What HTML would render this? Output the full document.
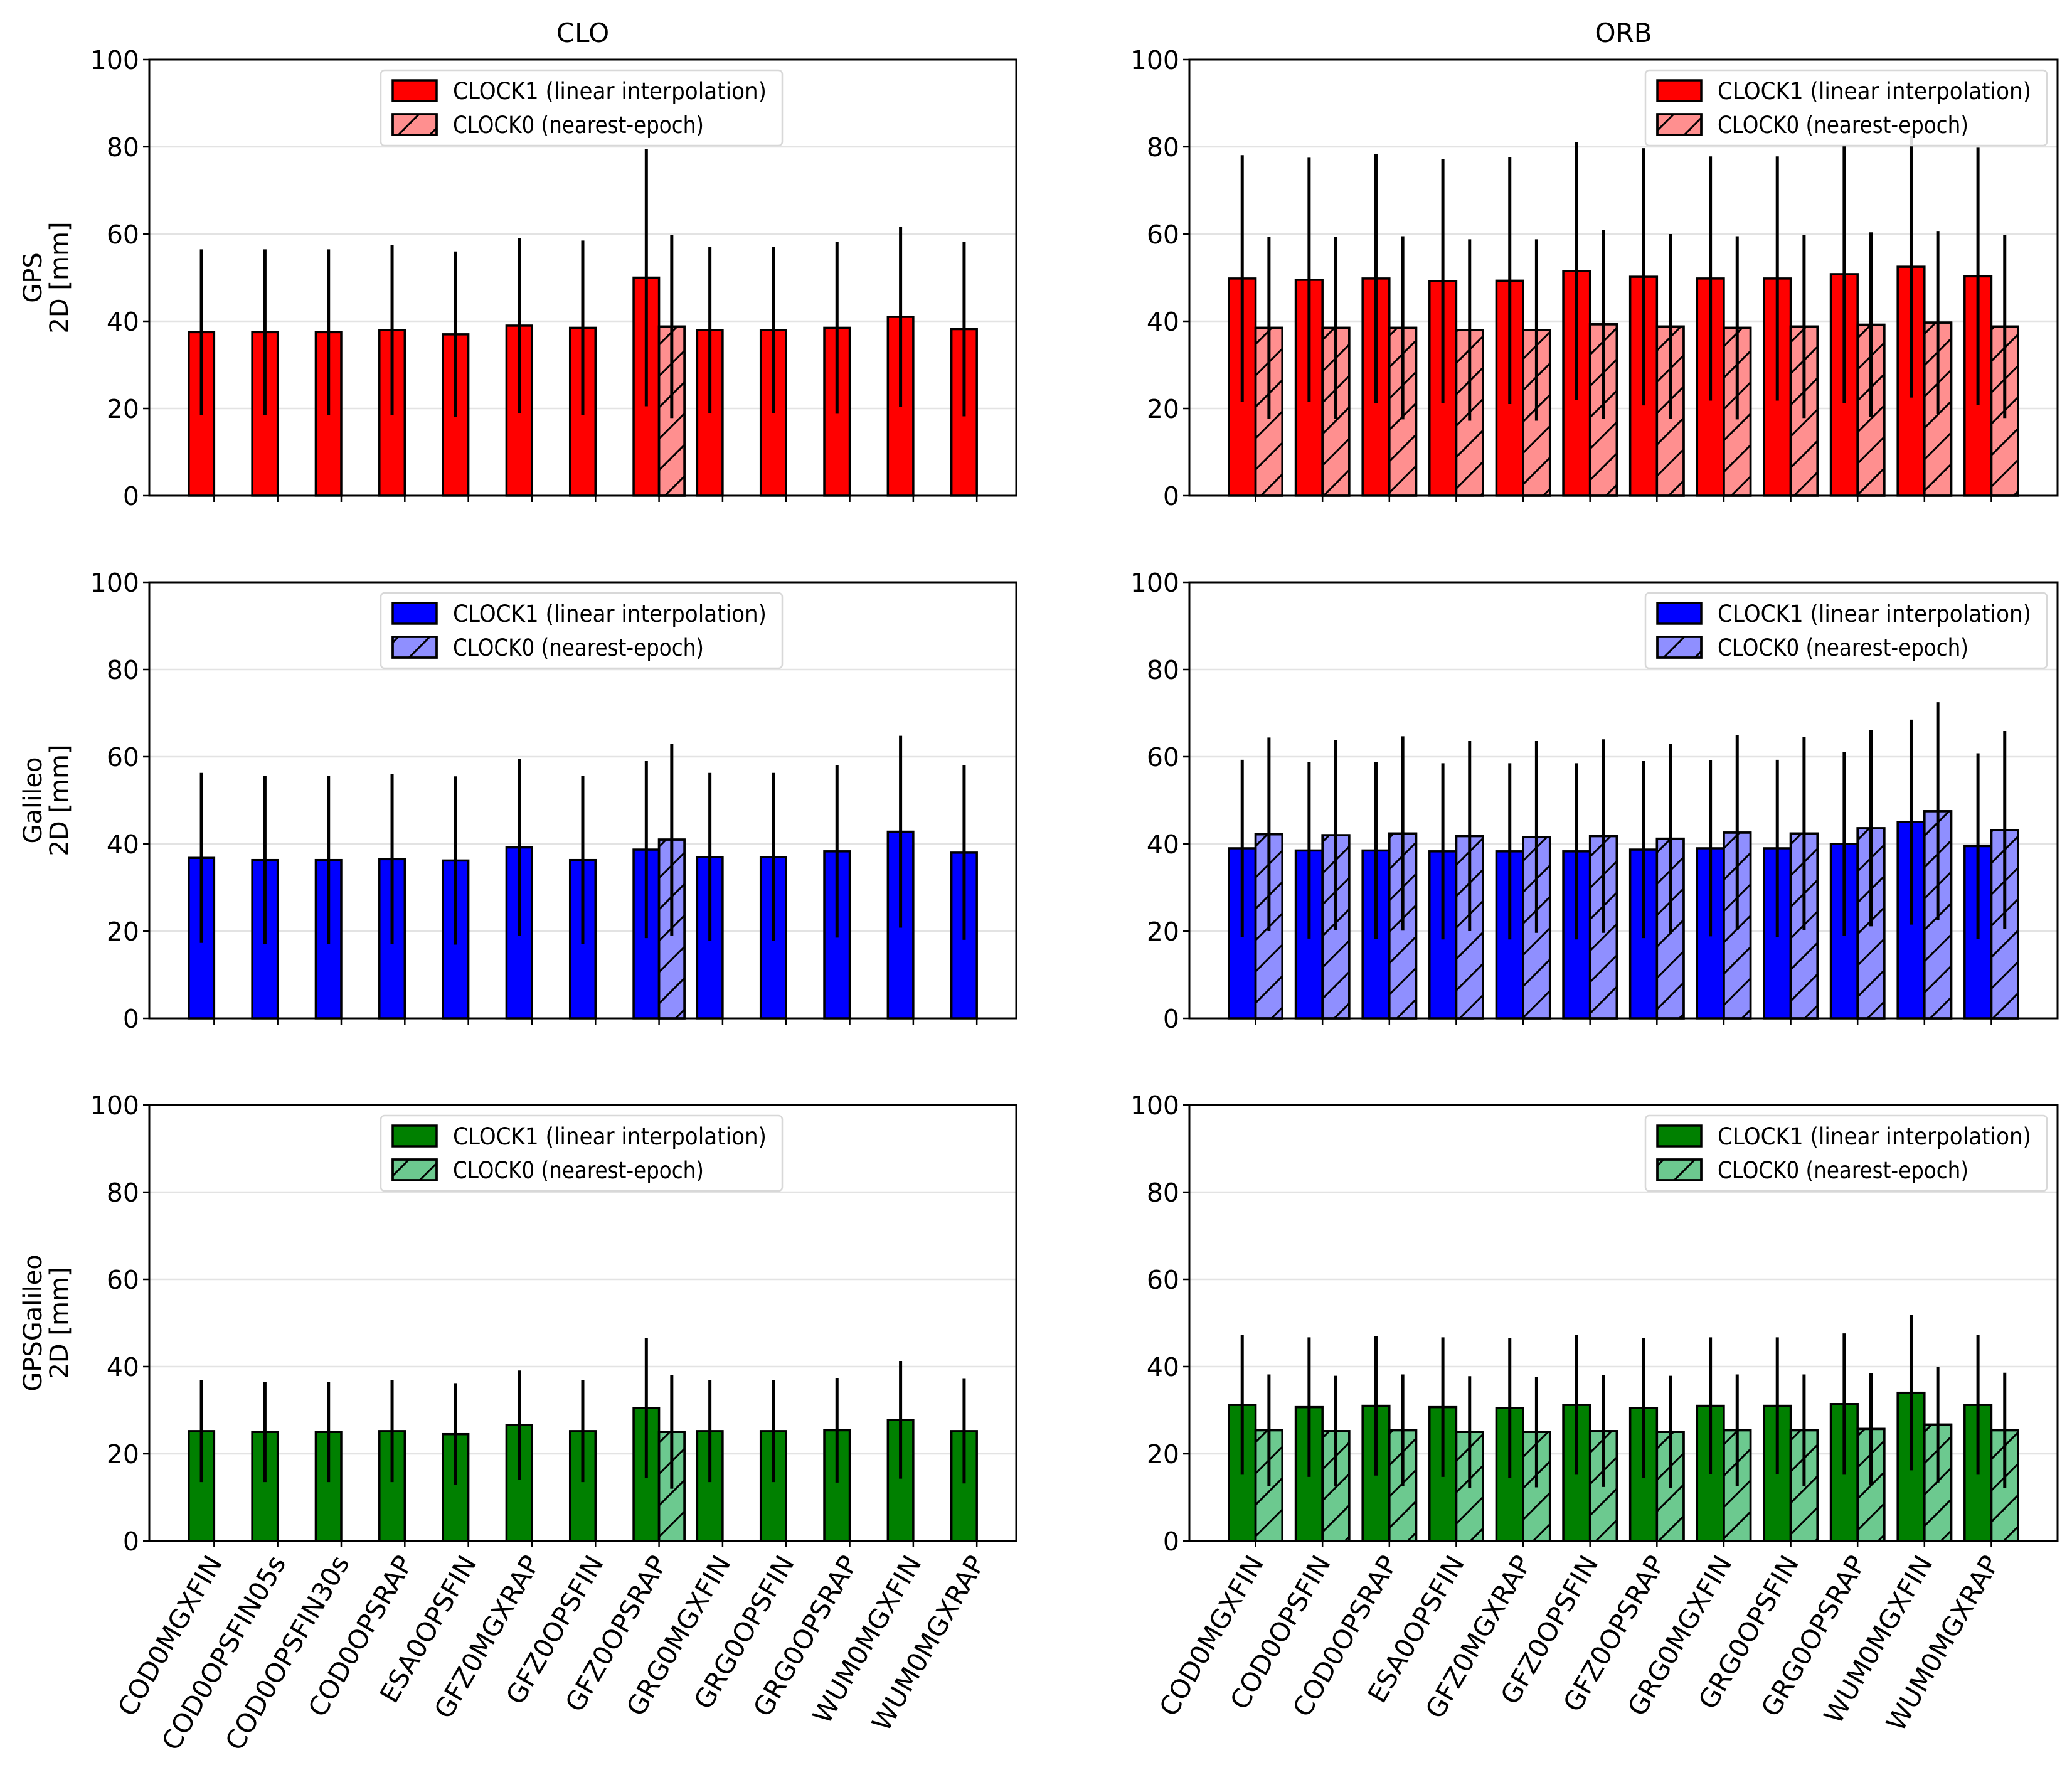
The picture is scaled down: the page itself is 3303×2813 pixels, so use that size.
<!DOCTYPE html>
<html><head><meta charset="utf-8"><style>
html,body{margin:0;padding:0;background:#fff;}
svg text{font-family:"DejaVu Sans","Liberation Sans",sans-serif;fill:#000;}
</style></head><body>
<svg id="chart" width="3303" height="2808" viewBox="0 0 3303 2808" xmlns="http://www.w3.org/2000/svg">
<defs>
<pattern id="hatch" patternUnits="userSpaceOnUse" width="50" height="50">
<path d="M-10,60 L60,-10 M-10,10 L10,-10 M40,60 L60,40" stroke="#000" stroke-width="3"/>
</pattern>
</defs>
</svg>
<script>
const cloCats = ["COD0MGXFIN","COD0OPSFIN05s","COD0OPSFIN30s","COD0OPSRAP","ESA0OPSFIN","GFZ0MGXRAP","GFZ0OPSFIN","GFZ0OPSRAP","GRG0MGXFIN","GRG0OPSFIN","GRG0OPSRAP","WUM0MGXFIN","WUM0MGXRAP"];
const orbCats = ["COD0MGXFIN","COD0OPSFIN","COD0OPSRAP","ESA0OPSFIN","GFZ0MGXRAP","GFZ0OPSFIN","GFZ0OPSRAP","GRG0MGXFIN","GRG0OPSFIN","GRG0OPSRAP","WUM0MGXFIN","WUM0MGXRAP"];
const yTicks = [0,20,40,60,80,100];
const cloClock0Index = 7;

const gpsCloC1 = [37.5,37.5,37.5,38,37,39,38.5,50,38,38,38.5,41,38.2];
const gpsCloC1Err = [19,19,19,19.5,19,20,20,29.5,19,19,19.7,20.7,20];
const gpsCloC0 = [38.8];
const gpsCloC0Err = [21];
const gpsOrbC1 = [49.8,49.5,49.8,49.2,49.3,51.5,50.2,49.8,49.8,50.8,52.5,50.3];
const gpsOrbC1Err = [28.3,28,28.5,28,28.3,29.5,29.5,28,28,29.5,30,29.5];
const gpsOrbC0 = [38.5,38.5,38.5,38,38,39.3,38.8,38.5,38.8,39.2,39.7,38.8];
const gpsOrbC0Err = [20.8,20.8,21,20.8,20.8,21.7,21.2,21,21,21.2,21,21];

const galCloC1 = [36.8,36.3,36.3,36.5,36.2,39.2,36.3,38.7,37,37,38.3,42.8,38];
const galCloC1Err = [19.5,19.3,19.3,19.5,19.3,20.3,19.3,20.3,19.3,19.3,19.8,22,20];
const galCloC0 = [41];
const galCloC0Err = [22];
const galOrbC1 = [39,38.5,38.5,38.3,38.3,38.3,38.7,39,39,40,45,39.5];
const galOrbC1Err = [20.3,20.2,20.3,20.2,20.2,20.2,20.3,20.2,20.3,21,23.5,21.3];
const galOrbC0 = [42.2,42,42.4,41.8,41.6,41.8,41.2,42.6,42.4,43.6,47.5,43.2];
const galOrbC0Err = [22.2,21.8,22.3,21.8,22,22.2,21.8,22.3,22.2,22.5,25,22.7];

const ggCloC1 = [25.2,25,25,25.2,24.5,26.6,25.2,30.5,25.2,25.2,25.4,27.8,25.2];
const ggCloC1Err = [11.7,11.5,11.5,11.7,11.7,12.5,11.7,16,11.7,11.7,12,13.5,12];
const ggCloC0 = [25];
const ggCloC0Err = [13];
const ggOrbC1 = [31.2,30.7,31,30.7,30.5,31.2,30.5,31,31,31.4,34,31.2];
const ggOrbC1Err = [16,16,16,16,16,16,16,15.7,15.7,16.2,17.8,16];
const ggOrbC0 = [25.4,25.2,25.4,25,25,25.2,25,25.4,25.4,25.7,26.7,25.4];
const ggOrbC0Err = [12.8,12.7,12.8,12.8,12.7,12.8,12.9,12.8,12.8,12.8,13.3,13.2];

const NS='http://www.w3.org/2000/svg';
const svg=document.getElementById('chart');
function mk(tag,attrs,parent){const e=document.createElementNS(NS,tag);for(const k in attrs)e.setAttribute(k,attrs[k]);(parent||svg).appendChild(e);return e;}

const rows=[
 {label:'GPS',top:95,bot:790,c1:'#ff0000',c0:'#ff8f8f',clo:[gpsCloC1,gpsCloC1Err,gpsCloC0,gpsCloC0Err],orb:[gpsOrbC1,gpsOrbC1Err,gpsOrbC0,gpsOrbC0Err]},
 {label:'Galileo',top:928,bot:1623,c1:'#0000ff',c0:'#8f8fff',clo:[galCloC1,galCloC1Err,galCloC0,galCloC0Err],orb:[galOrbC1,galOrbC1Err,galOrbC0,galOrbC0Err]},
 {label:'GPSGalileo',top:1761,bot:2456,c1:'#008000',c0:'#6cc98f',clo:[ggCloC1,ggCloC1Err,ggCloC0,ggCloC0Err],orb:[ggOrbC1,ggOrbC1Err,ggOrbC0,ggOrbC0Err]}
];
const cols=[
 {name:'CLO',left:238,right:1620,xmin:-1.02,xmax:12.62,cats:cloCats,key:'clo',legX:607},
 {name:'ORB',left:1896,right:3280,xmin:-0.99,xmax:11.99,cats:orbCats,key:'orb',legX:2623}
];
const W=0.4;

cols.forEach((col,ci)=>{
 const t=mk('text',{x:(col.left+col.right)/2,y:67,'font-size':42,'text-anchor':'middle'});
 
 
 t.textContent=col.name;
 rows.forEach((row,ri)=>{
  const g=mk('g',{});
  
  
  const X=v=>col.left+(v-col.xmin)/(col.xmax-col.xmin)*(col.right-col.left);
  const Y=v=>row.bot-v/100*(row.bot-row.top);
  yTicks.forEach(tv=>{
   if(tv>0&&tv<100){const gl=mk('line',{x1:col.left,x2:col.right,y1:Y(tv),y2:Y(tv),stroke:'#e3e3e3','stroke-width':2.5},g);
    }
   const tk=mk('line',{x1:col.left-10,x2:col.left,y1:Y(tv),y2:Y(tv),stroke:'#000','stroke-width':2.5},g);
   
   const tl=mk('text',{x:col.left-16,y:Y(tv)+15,'font-size':41,'text-anchor':'end'},g);
   
   tl.textContent=tv;
  });
  const d=row[col.key];
  const c1=d[0],e1=d[1],c0=d[2],e0=d[3];
  const drawBar=(i,v,e,fill,hatch,nm)=>{
   const x0=hatch?X(i):X(i-W);
   const r=mk('rect',{x:x0,y:Y(v),width:X(i+W)-X(i),height:Y(0)-Y(v),fill:fill,stroke:'#000','stroke-width':3.5},g);
   
   if(hatch){const h=mk('rect',{x:x0,y:Y(v),width:X(i+W)-X(i),height:Y(0)-Y(v),fill:'url(#hatch)',stroke:'#000','stroke-width':3.5},g);
    }
   const xc=x0+(X(i+W)-X(i))/2;
   const el=mk('line',{x1:xc,x2:xc,y1:Y(v-e),y2:Y(v+e),stroke:'#000','stroke-width':5},g);
   
  };
  c1.forEach((v,i)=>drawBar(i,v,e1[i],row.c1,false,'bar-clock1-'+col.cats[i].toLowerCase()));
  if(col.key==='clo'){c0.forEach((v,k)=>drawBar(cloClock0Index+k,v,e0[k],row.c0,true,'bar-clock0-'+col.cats[cloClock0Index+k].toLowerCase()));}
  else {c0.forEach((v,i)=>drawBar(i,v,e0[i],row.c0,true,'bar-clock0-'+col.cats[i].toLowerCase()));}
  col.cats.forEach((c,i)=>{
   const xt=X(i);
   const tk=mk('line',{x1:xt,x2:xt,y1:row.bot,y2:row.bot+10,stroke:'#000','stroke-width':2.5},g);
   
   if(ri===2){
    const tl=mk('text',{x:0,y:0,'font-size':42,'text-anchor':'end',transform:`translate(${xt+14},${row.bot+34}) rotate(-60)`},g);
    
    tl.textContent=c;
   }
  });
  const fr=mk('rect',{x:col.left,y:row.top,width:col.right-col.left,height:row.bot-row.top,fill:'none',stroke:'#000','stroke-width':3},g);
  
  const lg=mk('g',{},g);
  
  const ly=row.top+17;
  mk('rect',{x:col.legX,y:ly,width:640,height:120,rx:6,fill:'#fff','fill-opacity':0.85,stroke:'#d8d8d8','stroke-width':2.5},lg);
  const p1=mk('rect',{x:col.legX+19,y:ly+16,width:70,height:33,fill:row.c1,stroke:'#000','stroke-width':3.5},lg);
  
  const p0=mk('rect',{x:col.legX+19,y:ly+70,width:70,height:33,fill:row.c0,stroke:'#000','stroke-width':3.5},lg);
  
  mk('rect',{x:col.legX+19,y:ly+70,width:70,height:33,fill:'url(#hatch)',stroke:'#000','stroke-width':3.5},lg);
  const t1=mk('text',{x:col.legX+115,y:ly+46,'font-size':37,textLength:500,lengthAdjust:'spacingAndGlyphs'},lg);
  
  t1.textContent='CLOCK1 (linear interpolation)';
  const t0=mk('text',{x:col.legX+115,y:ly+100,'font-size':37,textLength:400,lengthAdjust:'spacingAndGlyphs'},lg);
  
  t0.textContent='CLOCK0 (nearest-epoch)';
  if(ci===0){
   const cy=(row.top+row.bot)/2;
   const a=mk('text',{x:0,y:0,'font-size':40,'text-anchor':'middle',transform:`translate(66,${cy}) rotate(-90)`});
   
   a.textContent=row.label;
   const b=mk('text',{x:0,y:0,'font-size':40,'text-anchor':'middle',transform:`translate(108,${cy}) rotate(-90)`});
   
   b.textContent='2D [mm]';
  }
 });
});
</script>
</body></html>
